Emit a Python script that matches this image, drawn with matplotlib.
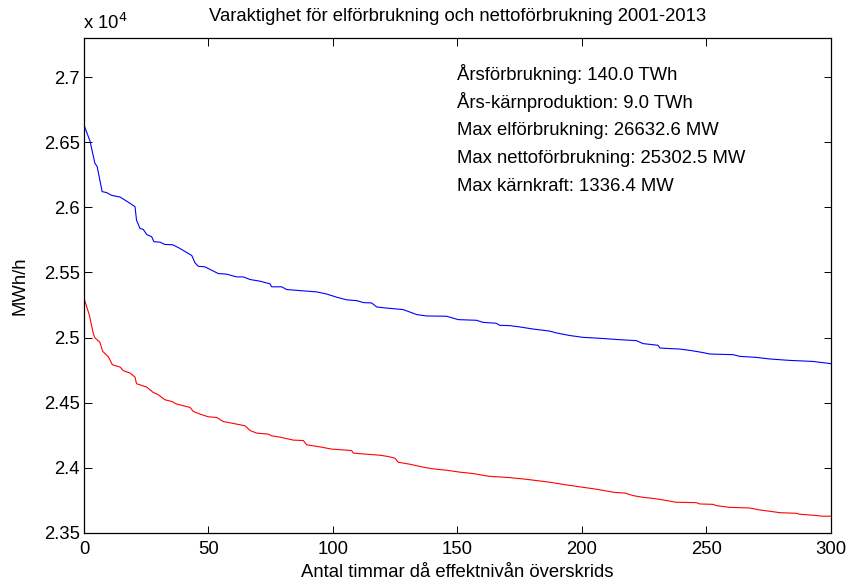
import numpy as np
import matplotlib.pyplot as plt
from matplotlib.ticker import FuncFormatter

plt.rcParams['font.family'] = ['Liberation Sans', 'DejaVu Sans']

# varaktighetskurvor, timmar och MW
tim_el = [0, 2.4, 4.4, 5.3, 7.3, 9.1, 11.1, 14.5, 17.1, 18.5, 20.5, 21.1, 22.5, 23.8,
          25.2, 27.2, 28.1, 30.5, 32.5, 35.6, 38.6, 43.3, 44.6, 45.9, 48.6, 51.3,
          53.9, 57.3, 61.3, 64.0, 66.7, 70.7, 74.7, 75.4, 79.4, 81.4, 86.7, 93.4,
          97.4, 101.5, 105.5, 109.5, 112.2, 115.5, 117.6, 120.9, 128.2, 133.6, 137.6,
          145.6, 150.3, 157.6, 160.3, 165.6, 167, 171, 175, 180.3, 187, 189.7, 195.1,
          200.4, 207.8, 215.1, 221.8, 224.5, 230.5, 231.3, 239.3, 244, 248, 251.4,
          260.7, 263.4, 270.1, 275.4, 283.4, 292.8, 300]
el = [26632.6, 26510, 26338, 26313, 26121, 26113, 26092, 26079, 26048, 26031, 26005,
      25902, 25838, 25831, 25792, 25774, 25736, 25733, 25715, 25713, 25684, 25630,
      25574, 25548, 25543, 25517, 25492, 25487, 25466, 25466, 25446, 25433, 25413,
      25390, 25390, 25369, 25361, 25351, 25335, 25310, 25290, 25284, 25269, 25266,
      25235, 25228, 25215, 25177, 25166, 25164, 25138, 25133, 25117, 25110, 25094,
      25092, 25082, 25066, 25050, 25036, 25016, 25002, 24994, 24984, 24977, 24954,
      24941, 24920, 24912, 24900, 24887, 24874, 24869, 24856, 24848, 24836, 24825,
      24817, 24800]

tim_netto = [0, 2.1, 3.7, 4.4, 6.4, 7.5, 9.8, 11.4, 14.5, 15.8, 18.5, 20.5, 21.1, 25.2,
             27.8, 29.8, 32.5, 35.2, 37.2, 39.9, 42.6, 43.9, 46.6, 49.9, 53.3, 55.9,
             61.3, 64.7, 66.7, 69.3, 74, 75.4, 78.7, 84.1, 88.1, 89.4, 94.8, 99.5,
             107.5, 108.2, 113.5, 118.9, 122.2, 124.9, 126.2, 130.9, 136.3, 140.3,
             145.6, 151, 156.4, 162.4, 171.1, 177.8, 187, 193.8, 200.4, 206.5, 213.2,
             217.2, 220.5, 224.5, 229.2, 232.5, 237.9, 245.9, 247.3, 252.6, 254, 259.3,
             267.3, 271.4, 275.4, 279.4, 286.1, 287.5, 294.9, 296.2, 300]
netto = [25302.5, 25177, 25036, 24998, 24964, 24895, 24852, 24792, 24774, 24746, 24728,
         24697, 24646, 24620, 24579, 24562, 24523, 24510, 24490, 24477, 24464, 24433,
         24413, 24392, 24387, 24356, 24336, 24323, 24287, 24267, 24259, 24246, 24236,
         24213, 24210, 24177, 24161, 24144, 24133, 24113, 24105, 24097, 24087, 24074,
         24043, 24028, 24005, 23992, 23982, 23967, 23956, 23936, 23925, 23912, 23890,
         23869, 23851, 23834, 23811, 23807, 23787, 23774, 23764, 23754, 23736, 23733,
         23723, 23720, 23710, 23697, 23692, 23677, 23667, 23656, 23651, 23644, 23633,
         23629, 23629]

info = ['Årsförbrukning: 140.0 TWh',
        'Års-kärnproduktion: 9.0 TWh',
        'Max elförbrukning: 26632.6 MW',
        'Max nettoförbrukning: 25302.5 MW',
        'Max kärnkraft: 1336.4 MW']

fs = 13.3

fig = plt.figure(figsize=(8.49, 5.82), dpi=100)
ax = fig.add_axes([0.0989, 0.0842, 0.8799, 0.8505])

ax.plot(tim_el, el, color='#0000ff', lw=0.8)
ax.plot(tim_netto, netto, color='#ff0000', lw=0.8)

ax.set_xlim(0, 300)
ax.set_ylim(23500, 27300)
ax.set_xticks(np.arange(0, 301, 50))
ax.set_yticks(np.arange(23500, 27001, 500))
ax.yaxis.set_major_formatter(FuncFormatter(lambda v, p: '%g' % round(v / 1e4, 4)))
ax.tick_params(direction='in', length=5.4, width=0.7, top=True, right=True,
               labelsize=fs, pad=3)
ax.tick_params(axis='x', pad=6)
for s in ax.spines.values():
    s.set_linewidth(0.9)

ax.set_title('Varaktighet för elförbrukning och nettoförbrukning 2001-2013',
             fontsize=fs, pad=12)
ax.set_xlabel('Antal timmar då effektnivån överskrids', fontsize=fs, labelpad=4)
ax.set_ylabel('MWh/h', fontsize=fs, labelpad=11)
fig.text(83 / 849, 1 - 23 / 582, 'x 10$^{4}$', fontsize=fs, ha='left', va='center')

for i, rad in enumerate(info):
    ax.text(0.4993, 0.927 - i * 0.057, rad, transform=ax.transAxes,
            fontsize=fs, ha='left', va='center')

fig.savefig('out.png', dpi=100)
